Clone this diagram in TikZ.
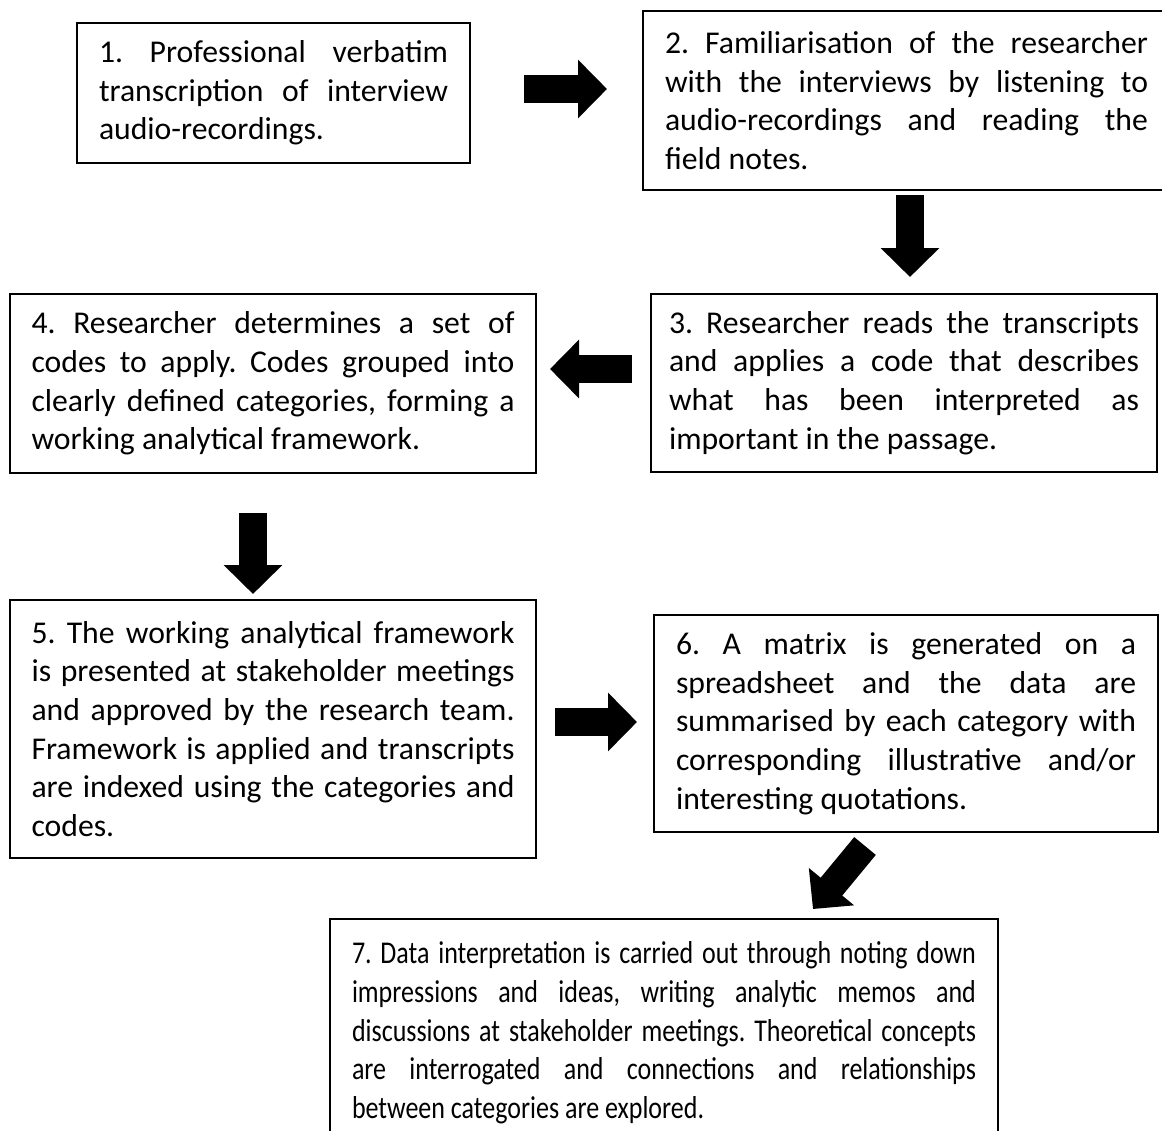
\documentclass[tikz,border=0pt]{standalone}
\usepackage{fontspec}
\setmainfont{Carlito}
\newfontfamily\condfont{Carlito}[FakeStretch=0.82]
\usetikzlibrary{arrows.meta}
\setlength{\parindent}{0pt}
\newlength{\jw}
\newcommand\jline[1]{\makebox[\jw][s]{\spaceskip=0pt\xspaceskip=0pt #1}}
\newcommand\lline[1]{\makebox[\jw][l]{\spaceskip=0pt\xspaceskip=0pt #1}}
\begin{document}
\frenchspacing
\begin{tikzpicture}[x=1pt,y=-1pt,
  box/.style={draw=black, line width=2pt, inner sep=0pt, align=left,
    font=\fontsize{31.7pt}{38.7pt}\selectfont\frenchspacing},
  tw/.style={text width=#1pt, execute at begin node={\setlength{\jw}{#1pt}}},
  blk/.style={line width=28pt, -{Triangle[width=57pt,length=29pt]}}]
\useasboundingbox (0,0) rectangle (1162,1130);
\fill[white] (0,0) rectangle (1162,1130);
\clip (0,0) rectangle (1162,1130);

\node[box, minimum width=393pt, minimum height=140pt, tw=349] (b1) at (273.5,93)
 {\jline{1. Professional verbatim}\\\jline{transcription of interview}\\\lline{audio-recordings.}};
\node[box, minimum width=527pt, minimum height=179pt, tw=483] (b2) at (906.5,100.5)
 {\jline{2. Familiarisation of the researcher}\\\jline{with the interviews by listening to}\\\jline{audio-recordings and reading the}\\\lline{field notes.}};
\node[box, minimum width=506pt, minimum height=178pt, tw=470] (b3) at (904,383)
 {\jline{3. Researcher reads the transcripts}\\\jline{and applies a code that describes}\\\jline{what has been interpreted as}\\\lline{important in the passage.}};
\node[box, minimum width=526pt, minimum height=179pt, tw=483] (b4) at (273,383.5)
 {\jline{4. Researcher determines a set of}\\\jline{codes to apply. Codes grouped into}\\\jline{clearly defined categories, forming a}\\\lline{working analytical framework.}};
\node[box, minimum width=526pt, minimum height=258pt, tw=483] (b5) at (273,729)
 {\jline{5. The working analytical framework}\\\jline{is presented at stakeholder meetings}\\\jline{and approved by the research team.}\\\jline{Framework is applied and transcripts}\\\jline{are indexed using the categories and}\\\lline{codes.}};
\node[box, minimum width=504pt, minimum height=217pt, tw=460] (b6) at (906,723.5)
 {\jline{6. A matrix is generated on a}\\\jline{spreadsheet and the data are}\\\jline{summarised by each category with}\\\jline{corresponding illustrative and/or}\\\lline{interesting quotations.}};
\node[box, minimum width=668pt, minimum height=228pt, tw=624,
  font=\condfont\fontsize{31.7pt}{38.7pt}\selectfont\frenchspacing] (b7) at (664,1033)
 {\jline{7. Data interpretation is carried out through noting down}\\\jline{impressions and ideas, writing analytic memos and}\\\jline{discussions at stakeholder meetings. Theoretical concepts}\\\jline{are interrogated and connections and relationships}\\\lline{between categories are explored.}};

\coordinate (a1s) at (524,89);  \coordinate (a1e) at (607,89);
\coordinate (a2s) at (910,195); \coordinate (a2e) at (910,277);
\coordinate (a3s) at (632,369); \coordinate (a3e) at (550,369);
\coordinate (a4s) at (253,513); \coordinate (a4e) at (253,594);
\coordinate (a5s) at (555,722); \coordinate (a5e) at (637,722);
\coordinate (a6s) at (865,846); \coordinate (a6e) at (813,909);
\draw[blk] (a1s) -- (a1e);
\draw[blk] (a2s) -- (a2e);
\draw[blk] (a3s) -- (a3e);
\draw[blk] (a4s) -- (a4e);
\draw[blk] (a5s) -- (a5e);
\draw[blk] (a6s) -- (a6e);
\end{tikzpicture}
\end{document}
